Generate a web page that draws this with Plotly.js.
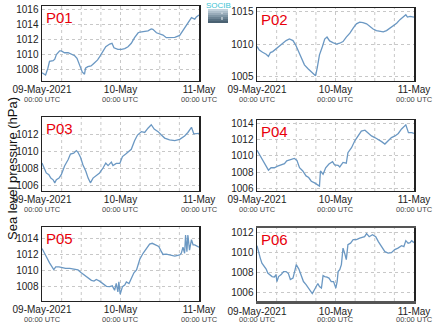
<!DOCTYPE html>
<html><head><meta charset="utf-8">
<script src="https://cdn.plot.ly/plotly-3.0.1.min.js"></script>
<style>body{margin:0;padding:0;background:#fff}#c{width:434px;height:327px}</style>
</head><body><div id="c"></div>
<script>
// Hours since 09-May-2021 00:00 UTC, and sea level pressure (hPa)
const hP01 = [0,0.6,1.1,1.8,2.3,3.4,3.9,4.4,5.4,5.9,6.9,8,9,10,10.7,11.5,12.3,13,13.3,14,15,16,17,17.6,18.7,19.5,20.7,21.4,22,23.2,24.3,25.3,26.3,27.3,28.3,29.4,30,31.4,32.4,33.4,33.9,35,36,37,38,39,40.6,42.1,43.6,44.6,45.7,46.7,47.2,48];
const P01 = [1007.6,1007.4,1007.3,1008.2,1009.1,1009.2,1009.4,1010.0,1010.5,1010.5,1010.25,1010.25,1010.0,1009.85,1009.5,1008.6,1007.7,1007.4,1008.2,1008.4,1008.5,1008.9,1009.3,1009.7,1010.4,1011.05,1011.4,1011.5,1010.9,1010.7,1010.7,1010.8,1011.05,1011.5,1012.25,1012.9,1013.0,1013.1,1013.15,1013.4,1013.35,1012.9,1012.8,1012.6,1012.25,1012.3,1012.3,1012.55,1013.5,1014.2,1014.9,1014.7,1015.0,1015.25];

const hP02 = [0,0.7,1.7,2.8,3.5,4.1,4.8,5.6,6.9,7.9,8.9,9.9,11,11.8,12.5,13.5,14.5,15.6,16.6,17.4,17.9,18.4,19.1,20,20.7,21.4,22.2,23.2,24.3,25.3,26.3,27.3,28.4,29.4,30.4,31.4,32.4,33.5,34.5,35.5,36.5,37.6,38.6,39.6,40.6,41.7,42.7,43.7,44.7,45.5,46,46.8,48];
const P02 = [1009.65,1009.1,1008.75,1008.45,1008.1,1008.7,1008.85,1009.2,1009.75,1010.15,1010.55,1010.8,1010.55,1009.9,1009.1,1007.7,1006.8,1006.2,1005.75,1005.25,1005.1,1006.3,1008.35,1009.65,1010.8,1011.1,1010.5,1010.25,1010.0,1010.15,1010.4,1011.1,1011.7,1012.5,1013.15,1013.4,1013.35,1013.15,1012.75,1012.35,1012.1,1012.0,1011.9,1012.1,1012.5,1012.85,1013.25,1013.8,1014.2,1014.55,1014.2,1014.3,1014.2];

const hP03 = [0,0.6,1.3,2.1,2.7,3.4,3.9,4.4,5.2,5.9,6.9,8,8.7,9.7,10.5,11,11.8,12.5,13.4,14.1,14.8,15.6,16.6,17.6,18.7,19.5,20.2,21.2,21.7,22.7,23.8,24.6,25.6,26.6,27.3,28.3,29.2,30.4,31.4,32.4,33.4,34.3,35.5,36.5,37.5,39,40.6,42.1,43.6,44.6,45.7,46.4,47.2,48];
const P03 = [1008.65,1008.1,1007.5,1007.3,1006.9,1006.7,1006.35,1006.7,1006.9,1007.3,1008.3,1009.05,1009.7,1009.8,1010.1,1009.9,1009.3,1008.45,1007.7,1006.9,1006.35,1006.9,1007.2,1007.5,1008.1,1008.65,1008.35,1008.75,1008.35,1008.6,1008.6,1009.4,1009.7,1010.0,1010.25,1011.25,1011.9,1012.3,1012.2,1012.7,1013.1,1012.6,1012.3,1011.9,1011.55,1011.35,1011.25,1011.4,1011.8,1012.2,1012.8,1012.05,1012.05,1012.1];

const hP04 = [0,0.7,1.5,2.3,3,3.5,4.3,5.3,6.3,7.4,8.4,9.1,10.4,11.4,12.2,13,14,15,15.8,16.6,17.6,18.6,19.1,19.4,20.2,21,22,23.1,23.7,24.8,25.3,26.3,27.3,27.8,28.9,29.9,30.9,31.9,33,34,35,36,37,38.1,39.1,40.1,41.1,42.2,43.2,44.2,45.5,46.3,47.3,48];
const P04 = [1010.7,1010.2,1009.6,1009.05,1008.55,1008.25,1008.55,1008.55,1008.75,1008.9,1009.05,1009.4,1009.6,1009.7,1009.45,1008.55,1008.15,1007.55,1007.35,1006.9,1006.7,1006.5,1006.3,1008.15,1007.75,1008.55,1009.0,1009.3,1008.9,1008.85,1008.65,1009.2,1009.1,1010.4,1011.0,1011.85,1012.45,1013.05,1013.15,1012.75,1012.45,1012.25,1012.05,1011.75,1011.45,1011.85,1012.25,1012.45,1012.75,1013.3,1013.8,1012.85,1012.85,1012.75];

const hP05 = [0,0.6,1.3,2.3,3.2,3.6,4.2,5.2,6.2,7.2,8.5,9.5,11,12,13,14.1,15.1,15.9,16.6,17.6,18.7,19.7,20.7,21.5,22.2,22.7,23.2,23.5,23.9,24.6,25.3,25.8,26.6,27.3,28.1,28.9,29.9,30.9,31.9,32.9,33.7,34.7,35.7,36.5,37,38,39.3,40.6,42.1,42.6,43.1,43.6,43.9,44.3,44.6,45.1,45.7,46.2,46.7,47.2,48];
const P05 = [1012.8,1012.4,1011.8,1011.0,1010.5,1010.15,1010.5,1010.5,1010.4,1010.3,1010.3,1010.2,1010.1,1009.75,1009.45,1009.15,1008.8,1008.7,1008.9,1008.7,1008.4,1008.05,1008.0,1008.1,1007.55,1008.4,1007.35,1008.6,1007.05,1008.0,1008.2,1008.6,1008.4,1009.0,1009.75,1010.1,1011.45,1012.2,1012.8,1013.35,1013.45,1013.25,1013.05,1012.4,1012.05,1012.1,1012.0,1011.85,1012.0,1012.2,1012.95,1012.2,1014.5,1012.4,1014.5,1012.6,1013.9,1013.25,1013.25,1013.1,1012.95];

const hP06 = [0,0.5,1,1.5,2.3,2.8,3.3,3.8,4.6,5.3,5.8,6.1,6.6,7.4,8.1,8.9,9.6,10.2,11,11.5,12,12.8,13.5,14.2,15,16.1,16.9,17.6,18.1,18.6,19.1,19.7,20.2,20.7,21.4,22,22.7,23.4,24.1,24.5,24.8,25.3,25.8,26.3,26.8,27.3,27.8,28.6,29.4,30.4,31.4,32.2,32.9,33.5,34.3,35.3,36.3,37.1,38.1,39.1,40.1,41.1,42.1,43.1,44.2,44.9,45.5,46.2,46.8,47.3,48];
const P06 = [1010.65,1009.9,1009.4,1008.9,1008.55,1008.3,1007.9,1007.75,1007.55,1007.5,1007.75,1007.05,1007.55,1007.75,1008.05,1008.05,1007.85,1007.25,1007.4,1008.05,1008.75,1008.3,1007.75,1007.05,1006.75,1006.25,1005.85,1006.25,1006.55,1006.85,1006.55,1006.4,1007.65,1007.55,1007.5,1007.4,1007.05,1007.05,1006.4,1007.05,1008.05,1008.25,1008.75,1010.4,1009.9,1009.25,1010.75,1010.9,1011.25,1011.25,1011.4,1011.5,1011.55,1011.85,1011.55,1011.75,1011.55,1011.05,1010.5,1010.05,1009.9,1009.95,1010.25,1010.4,1010.65,1010.55,1011.15,1010.9,1010.95,1011.15,1010.95];

const panelNames = ['P01','P02','P03','P04','P05','P06'];
const yTicks = [[1008,1010,1012,1014,1016],[1005,1010,1015],[1006,1008,1010,1012],[1006,1008,1010,1012,1014],[1008,1010,1012,1014],[1006,1008,1010,1012]];
const yRanges = [[1006.5,1016.45],[1004.3,1015.6],[1005.4,1014.0],[1005.7,1014.4],[1006.2,1015.5],[1005.1,1012.42]];
const xTickDates = ['2021-05-09 00:00','2021-05-10 00:00','2021-05-11 00:00'];
const xTickMain = ['09-May-2021','10-May','11-May'];
const xTickSub = '00:00 UTC';
const yTitle = 'Sea level pressure (hPa)';
const logoText = 'SOCIB';

const series = [[hP01,P01],[hP02,P02],[hP03,P03],[hP04,P04],[hP05,P05],[hP06,P06]];
const base = Date.UTC(2021,4,9,0,0,0);
function toDate(h){const d=new Date(base+h*3600e3);return d.toISOString().replace('T',' ').slice(0,19);}

const W=434,H=327;
const xDom=[[42,199],[257,414]];
const yDom=[[6,81],[8,81],[117,191],[120,191],[227,301],[228,301]];

const traces=[], layout={width:W,height:H,margin:{l:0,r:0,t:0,b:0},paper_bgcolor:'#fff',plot_bgcolor:'#fff',showlegend:false,
  font:{family:'Liberation Sans, Arial, sans-serif',size:10,color:'#222'},annotations:[],shapes:[]};
const gridDates=[];for(let h=0;h<=48;h+=6)gridDates.push(toDate(h));
series.forEach((s,i)=>{
  const n=i+1, xa='x'+(n===1?'':n), ya='y'+(n===1?'':n);
  traces.push({x:s[0].map(toDate),y:s[1],xaxis:xa,yaxis:ya,type:'scatter',mode:'lines',line:{color:'#6b98c3',width:1.3},hoverinfo:'skip'});
  const col=i%2, xd=xDom[col], yd=yDom[i];
  const xk='xaxis'+(n===1?'':n), yk='yaxis'+(n===1?'':n);
  layout[xk]={domain:[xd[0]/W,xd[1]/W],anchor:ya,type:'date',range:[toDate(0),toDate(48)],
    tickmode:'array',tickvals:xTickDates,ticktext:xTickMain,ticklabelstandoff:-1,
    showgrid:false,zeroline:false,showline:true,mirror:true,linecolor:(n===6?'#555':'#222'),linewidth:(n===6?2.5:1.3),
    ticks:'',tickfont:{size:10,color:'#222'},fixedrange:true};
  layout[yk]={domain:[1-yd[1]/H,1-yd[0]/H],anchor:xa,range:yRanges[i],tickmode:'array',tickvals:yTicks[i],
    showgrid:true,gridcolor:'#c8c8c8',griddash:'dot',gridwidth:1,zeroline:false,showline:true,mirror:true,linecolor:'#222',linewidth:1.5,
    ticks:'',tickfont:{size:10,color:'#222'},fixedrange:true};
  gridDates.slice(1,-1).forEach(d=>layout.shapes.push({type:'line',xref:xa,yref:ya+' domain',x0:d,x1:d,y0:0,y1:1,line:{color:'#c8c8c8',width:1,dash:'dot'},layer:'below'}));
  xTickDates.forEach(d=>layout.annotations.push({xref:xa,yref:'paper',x:d,y:1-(yd[1]+18.5)/H,xanchor:'center',yanchor:'middle',showarrow:false,
    text:xTickSub,font:{size:7.5,color:'#444'},borderpad:0}));
  layout.annotations.push({xref:xa+' domain',yref:ya+' domain',x:0.012,y:0.99,xanchor:'left',yanchor:'top',showarrow:false,
    text:panelNames[i],font:{size:15,color:'#e8000b'}});
});
layout.annotations.push({xref:'paper',yref:'paper',x:12/W,y:1-169/H,xanchor:'center',yanchor:'middle',textangle:-90,showarrow:false,text:yTitle,font:{size:13,color:'#111'}});
// logo
const logoCols=['#c3d2dc','#aebfcb','#98abb9','#8197a6','#6c8393','#587081','#4a6172'];
logoCols.forEach((c,k)=>layout.shapes.push({type:'rect',xref:'paper',yref:'paper',x0:208/W,x1:228/W,y0:1-(9+2*(k+1))/H,y1:1-(9+2*k)/H,fillcolor:c,line:{width:0},layer:'below'}));
layout.shapes.push({type:'line',xref:'paper',yref:'paper',x0:222/W,x1:222/W,y0:1-20/H,y1:1-12.5/H,line:{color:'#f0f4f6',width:1,dash:'dot'}});
layout.annotations.push({xref:'paper',yref:'paper',x:218/W,y:1-5.5/H,xanchor:'center',yanchor:'middle',showarrow:false,text:logoText,font:{size:8,color:'#3cc3d3'},borderpad:0});
Plotly.newPlot('c',traces,layout,{staticPlot:true,displayModeBar:false});
</script></body></html>
